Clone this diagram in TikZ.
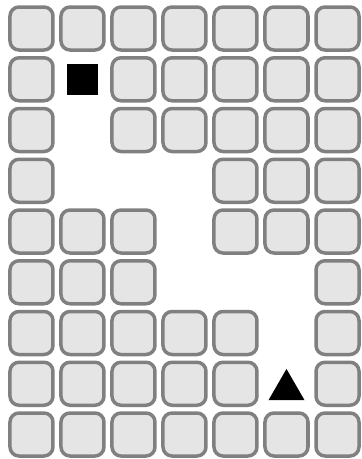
\documentclass[tikz,border=0pt]{standalone}
\usetikzlibrary{shapes.geometric}

\begin{document}
\begin{tikzpicture}[
    x=51pt, y=-50.75pt,
    cell/.style={rectangle, draw=gray, fill=gray!20, line width=3.5pt, rounded corners=9pt, minimum size=43pt, inner sep=0pt},
    start/.style={rectangle, fill=black, minimum size=31pt, inner sep=0pt},
    goal/.style={regular polygon, regular polygon sides=3, fill=black, minimum size=41.6pt, inner sep=0pt}
]
    \useasboundingbox (-31.5pt,28.5pt) rectangle (330.5pt,-430.5pt);

    % Maze walls (1 = wall cell, 0 = free)
    \foreach \row [count=\r from 0] in {{1,1,1,1,1,1,1},{1,0,1,1,1,1,1},{1,0,1,1,1,1,1},{1,0,0,0,1,1,1},{1,1,1,0,1,1,1},{1,1,1,0,0,0,1},{1,1,1,1,1,0,1},{1,1,1,1,1,0,1},{1,1,1,1,1,1,1}} {
        \foreach \v [count=\c from 0] in \row {
            \ifnum\v=1 \node (c-\r-\c) [cell] at (\c,\r) {}; \fi
        }
    }

    % Start and goal markers
    \node (start) [start] at (1,1) {};
    \node (goal) [goal, yshift=-6pt] at (5,7) {};

\end{tikzpicture}
\end{document}
